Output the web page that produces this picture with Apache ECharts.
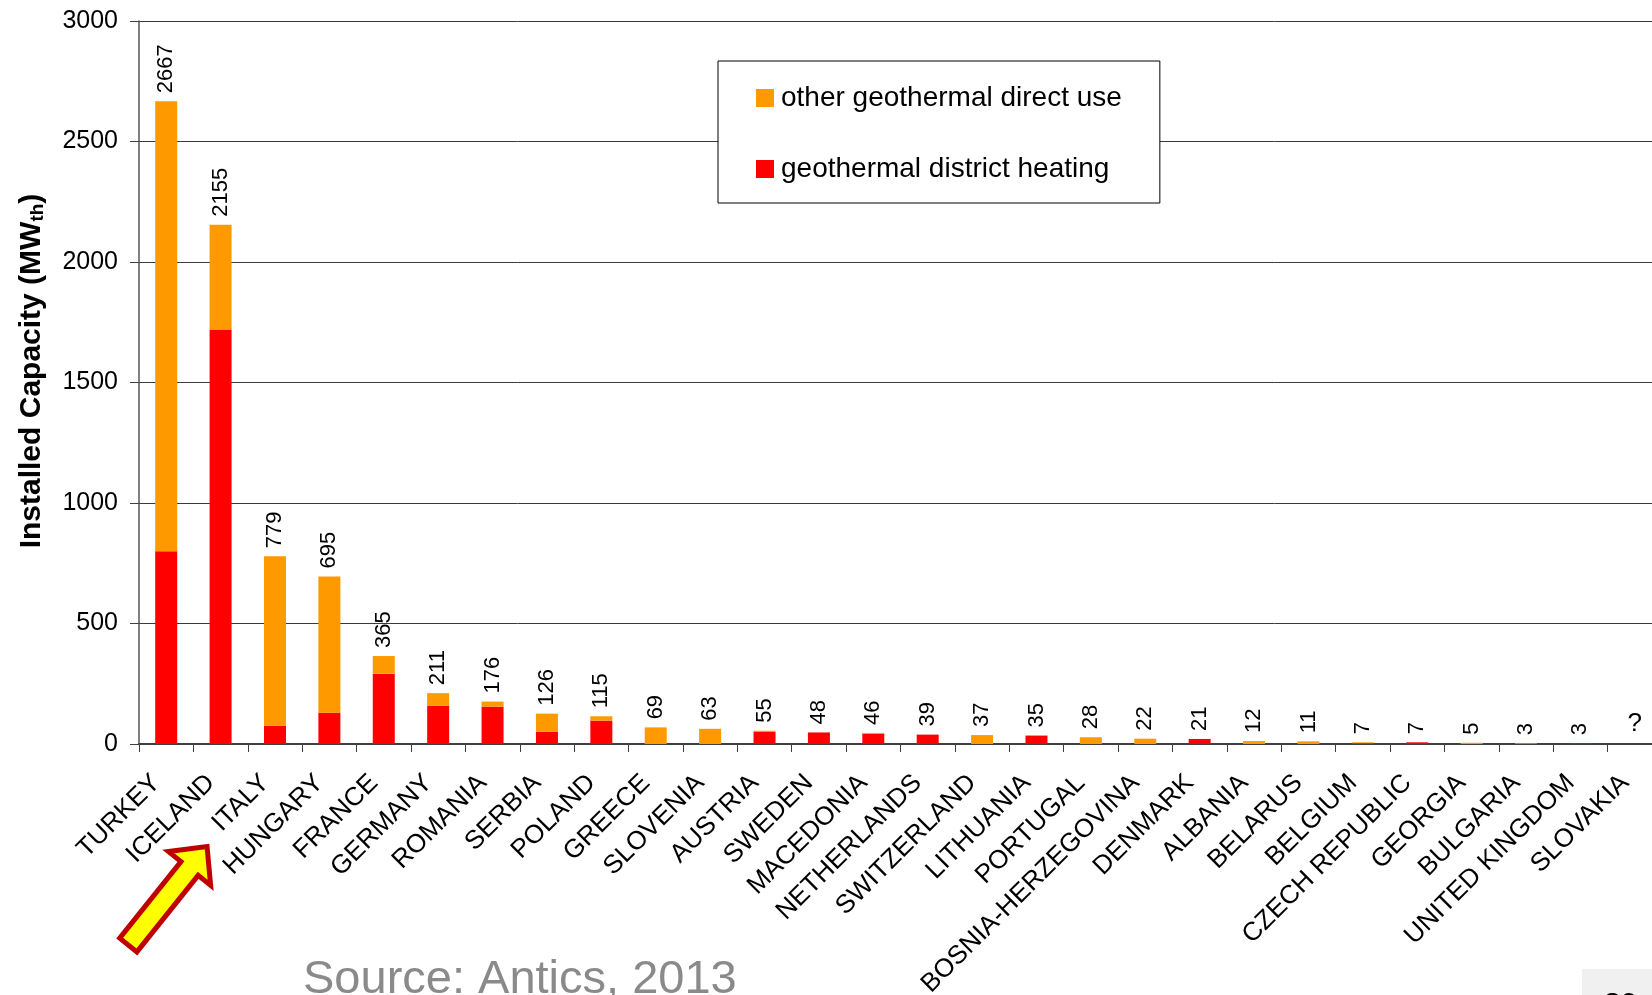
<!DOCTYPE html>
<html>
<head>
<meta charset="utf-8">
<script src="https://cdn.jsdelivr.net/npm/echarts@6/dist/echarts.min.js"></script>
<style>
  html, body { margin: 0; padding: 0; background: #fff; }
  #chart { width: 1652px; height: 995px; }
</style>
</head>
<body>
<div id="chart"></div>
<script>
// Installed geothermal direct-use capacity by country (MWth)
const countries = [
  'TURKEY', 'ICELAND', 'ITALY', 'HUNGARY', 'FRANCE', 'GERMANY', 'ROMANIA',
  'SERBIA', 'POLAND', 'GREECE', 'SLOVENIA', 'AUSTRIA', 'SWEDEN', 'MACEDONIA',
  'NETHERLANDS', 'SWITZERLAND', 'LITHUANIA', 'PORTUGAL', 'BOSNIA-HERZEGOVINA',
  'DENMARK', 'ALBANIA', 'BELARUS', 'BELGIUM', 'CZECH REPUBLIC', 'GEORGIA',
  'BULGARIA', 'UNITED KINGDOM', 'SLOVAKIA'
];
// total installed capacity per country (null = unknown)
const totalCapacity = [
  2667, 2155, 779, 695, 365, 211, 176, 126, 115, 69, 63, 55, 48, 46,
  39, 37, 35, 28, 22, 21, 12, 11, 7, 7, 5, 3, 3, null
];
// share of the total used for district heating
const districtHeating = [
  800, 1720, 76, 130, 292, 159, 155, 51, 97, 0, 0, 50, 48, 42,
  39, 0, 35, 0, 0, 21, 0, 0, 3, 7, 0, 0, 3, null
];
const yTicks = { min: 0, max: 3000, step: 500 };

const NAME_OTHER = 'other geothermal direct use';
const NAME_DH = 'geothermal district heating';
const FONT = '"Liberation Sans", Arial, sans-serif';

const dhData = districtHeating.map(v => (v == null ? 0 : v));
const otherData = totalCapacity.map((t, i) => {
  if (t == null) {
    // unknown total: an empty bar carrying a question mark
    return {
      value: 0,
      label: { formatter: '?', rotate: 0, align: 'center', verticalAlign: 'bottom', fontSize: 26, distance: 7 }
    };
  }
  return t - dhData[i];
});

// arrow graphic pointing at ITALY's label
function arrowPoints() {
  const tail = [128.3, 945];
  const u = [0.625, -0.781];
  const n = [0.781, 0.625];
  const pt = (a, b) => [tail[0] + a * u[0] + b * n[0], tail[1] + a * u[1] + b * n[1]];
  return [pt(0, -11), pt(98, -11), pt(98, -27), pt(126, 0), pt(98, 27), pt(98, 11), pt(0, 11)];
}

const chart = echarts.init(document.getElementById('chart'), null, { renderer: 'canvas' });
chart.setOption({
  backgroundColor: '#fff',
  animation: false,
  textStyle: { fontFamily: FONT },
  grid: {
    left: 139, top: 21, width: 1523, height: 723,
    containLabel: false, outerBoundsMode: 'none'
  },
  legend: {
    data: [NAME_OTHER, NAME_DH],
    orient: 'vertical',
    left: 718, top: 61,
    padding: [23, 38, 20, 38],
    itemGap: 43,
    itemWidth: 18, itemHeight: 18,
    icon: 'rect',
    borderColor: '#000', borderWidth: 1, borderRadius: 0,
    backgroundColor: '#fff',
    textStyle: { fontSize: 28, color: '#000', fontFamily: FONT, padding: [0, 0, 0, 2] }
  },
  xAxis: {
    type: 'category',
    data: countries,
    axisLine: { lineStyle: { color: '#404040', width: 2 } },
    axisTick: { show: true, length: 8, lineStyle: { color: '#404040', width: 1 } },
    axisLabel: {
      interval: 0, rotate: 45, fontSize: 26, color: '#000', fontFamily: FONT,
      margin: 25, padding: [0, 14, 0, 0]
    }
  },
  yAxis: {
    type: 'value',
    min: yTicks.min, max: yTicks.max, interval: yTicks.step,
    axisLine: { show: true, lineStyle: { color: '#555', width: 1.5 } },
    axisTick: { show: true, length: 9, lineStyle: { color: '#404040', width: 1 } },
    axisLabel: { fontSize: 25, color: '#000', margin: 21, fontFamily: FONT, formatter: v => String(v) },
    splitLine: { show: true, lineStyle: { color: '#3a3a3a', width: 1 } }
  },
  series: [
    {
      name: NAME_DH,
      type: 'bar',
      stack: 'cap',
      barWidth: 22,
      itemStyle: { color: '#FF0000' },
      data: dhData
    },
    {
      name: NAME_OTHER,
      type: 'bar',
      stack: 'cap',
      barWidth: 22,
      itemStyle: { color: '#FF9900' },
      label: {
        show: true,
        position: 'top',
        distance: 8,
        rotate: 90,
        align: 'left',
        verticalAlign: 'middle',
        fontSize: 22,
        color: '#000',
        fontFamily: FONT,
        formatter: p => String(totalCapacity[p.dataIndex])
      },
      data: otherData
    }
  ],
  graphic: [
    {
      type: 'text',
      x: 32, y: 371,
      rotation: Math.PI / 2,
      style: {
        text: '{t|Installed Capacity (MW}{s|th}{t|)}',
        align: 'center', verticalAlign: 'middle',
        rich: {
          t: { fontSize: 30, fontWeight: 'bold', fontFamily: FONT, fill: '#000' },
          s: { fontSize: 19, fontWeight: 'bold', fontFamily: FONT, fill: '#000', padding: [11, 0, 0, 0] }
        }
      }
    },
    {
      type: 'polygon',
      shape: { points: arrowPoints() },
      style: { fill: '#FFFF00', stroke: '#C00000', lineWidth: 5, lineJoin: 'miter' }
    },
    {
      type: 'text',
      x: 303, y: 980,
      style: {
        text: 'Source: Antics, 2013',
        fontSize: 47, fontFamily: FONT, fill: '#8a8a8a',
        align: 'left', verticalAlign: 'middle'
      }
    },
    {
      type: 'rect',
      shape: { x: 1582, y: 969, width: 70, height: 26 },
      style: { fill: '#f0f0f0' }
    },
    {
      type: 'text',
      x: 1604, y: 1005,
      style: {
        text: '30', fontSize: 30, fontWeight: 'bold', fontFamily: FONT, fill: '#000',
        align: 'left', verticalAlign: 'middle'
      }
    }
  ]
});
</script>
</body>
</html>
